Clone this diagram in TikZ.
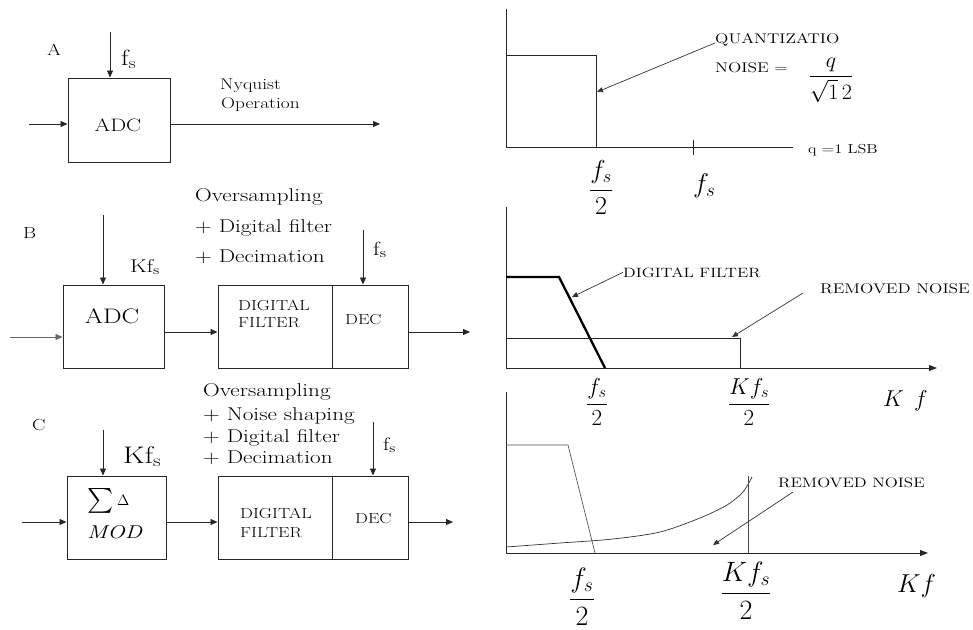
\RequirePackage{fix-cm}
\documentclass[tikz,border=0pt]{standalone}
\usepackage{amsmath}
\usepackage{fontspec}
\setmainfont{Latin Modern Roman}[FakeStretch=1.25]
\usetikzlibrary{arrows.meta}
\newcommand\fsz[1]{\fontsize{#1}{#1}\selectfont}
\tikzset{
  ln/.style={line width=0.9pt, draw=black!85},
  arr/.style={ln, -{Triangle[length=7pt,width=6pt]}},
  sarr/.style={line width=0.7pt, draw=black!80, -{Triangle[length=6pt,width=5pt]}},
  box/.style={draw=black!85, line width=1pt, inner sep=0pt},
  txt/.style={inner sep=0pt, anchor=base west},
  ctxt/.style={inner sep=0pt, anchor=base},
  axis/.style={line width=0.9pt, draw=black!85},
  thin/.style={line width=0.7pt, draw=black!70},
}
\begin{document}
\begin{tikzpicture}[x=1pt,y=-1pt]
\useasboundingbox (0,0) rectangle (973,629);

% ---------------- Panel A ----------------
\node[txt] (labA) at (47,55) {\fsz{16}A};
\node[box, minimum width=102pt, minimum height=84pt] (adcA) at (119,120) {};
\node[ctxt] (tadcA) at (118,131) {\fsz{18}ADC};
\node[txt] (fsA) at (121,65) {\fsz{22}f\textsubscript{s}};
\node[txt] (nyq) at (220,89) {\fsz{15.5}Nyquist};
\node[txt] (oper) at (221,108) {\fsz{15.5}Operation};
\coordinate (clkA) at (110,32);
\coordinate (inA) at (29,124);
\coordinate (outA) at (380,124);
\draw[arr] (clkA) -- (clkA |- adcA.north);
\draw[arr] (inA) -- (inA -| adcA.west);
\draw[arr] (adcA.east |- outA) -- (outA);

% ---------------- Panel B ----------------
\node[txt] (labB) at (23,238) {\fsz{16}B};
\node[box, minimum width=101pt, minimum height=83pt] (adcB) at (113.5,326.5) {};
\node[ctxt] (tadcB) at (112,323) {\fsz{21}ADC};
\node[box, minimum width=114pt, minimum height=83pt] (dfB) at (275,326.5) {};
\node[box, minimum width=76pt, minimum height=83pt] (decB) at (370,326.5) {};
\node[txt] (dig1B) at (238,310) {\fsz{14.5}DIGITAL};
\node[txt] (fil1B) at (238,327) {\fsz{14.5}FILTER};
\node[txt] (dec1B) at (345,324) {\fsz{14.5}DEC};
\node[txt] (ov1B) at (195,201) {\fsz{18.5}Oversampling};
\node[txt] (ov2B) at (195,232) {\fsz{18.5}+ Digital filter};
\node[txt] (ov3B) at (195,262) {\fsz{18.5}+ Decimation};
\node[txt] (kfB) at (130,272) {\fsz{18.5}Kf\textsubscript{s}};
\node[txt] (fsB) at (373,255) {\fsz{19}f\textsubscript{s}};
\coordinate (clkB1) at (103,215);
\coordinate (clkB2) at (363,230);
\coordinate (inB) at (10,337);
\coordinate (mB) at (0,332);
\coordinate (outB) at (470,332);
\draw[arr] (clkB1) -- (clkB1 |- adcB.north);
\draw[arr] (clkB2) -- (clkB2 |- decB.north);
\draw[arr, draw=black!60] (inB) -- (inB -| adcB.west);
\draw[arr] (adcB.east |- mB) -- (dfB.west |- mB);
\draw[arr] (decB.east |- mB) -- (outB);

% ---------------- Panel C ----------------
\node[txt] (labC) at (32,430) {\fsz{16}C};
\node[box, minimum width=99pt, minimum height=83pt] (modC) at (116.5,517.5) {};
\node[box, minimum width=114pt, minimum height=83pt] (dfC) at (275,517.5) {};
\node[box, minimum width=76pt, minimum height=83pt] (decC) at (370,517.5) {};
\node[txt] (sig) at (87,508) {\fsz{27}$\sum$};
\node[txt] (del) at (117,505) {\fsz{15}$\Delta$};
\node[txt] (mod) at (87,538) {\fsz{18.5}\itshape MOD};
\node[txt] (dig1C) at (240,518) {\fsz{14.5}DIGITAL};
\node[txt] (fil1C) at (240,537) {\fsz{14.5}FILTER};
\node[txt] (dec1C) at (355,523) {\fsz{14.5}DEC};
\node[txt] (ov1C) at (203,396) {\fsz{18.5}Oversampling};
\node[txt] (ov2C) at (203,420) {\fsz{18.5}+ Noise shaping};
\node[txt] (ov3C) at (203,442) {\fsz{18.5}+ Digital filter};
\node[txt] (ov4C) at (203,463) {\fsz{18.5}+ Decimation};
\node[txt] (kfC) at (123,463) {\fsz{24}Kf\textsubscript{s}};
\node[txt] (fsC) at (383,450) {\fsz{18}f\textsubscript{s}};
\coordinate (clkC1) at (103,430);
\coordinate (clkC2) at (373,422);
\coordinate (inC) at (22,522);
\coordinate (mC) at (0,522);
\coordinate (outC) at (453,522);
\draw[arr] (clkC1) -- (clkC1 |- modC.north);
\draw[arr] (clkC2) -- (clkC2 |- decC.north);
\draw[arr] (inC) -- (inC -| modC.west);
\draw[arr] (modC.east |- mC) -- (dfC.west |- mC);
\draw[arr] (decC.east |- mC) -- (outC);

% ---------------- Graph 1 ----------------
\draw[axis] (506,9) -- (506,147) -- (793,147);
\draw[axis] (506,55) -- (596,55) -- (596,147);
\draw[axis] (693,140) -- (693,155);
\node[txt] (quant) at (715,43) {\fsz{14}QUANTIZATIO};
\node[txt] (noise) at (715,72) {\fsz{14}NOISE =};
\node[ctxt] (qfrac) at (831,82) {\fsz{22}$\dfrac{q}{\sqrt{1}\,2}$};
\node[txt] (lsb) at (808,153) {\fsz{13}q =1 LSB};
\node[ctxt] (fr1) at (601,196.5) {\fsz{26}$\dfrac{f_s}{2}$};
\node[txt] (fs1) at (693,192) {\fsz{27}$f_s$};
\coordinate (qend) at (597,92);
\draw[sarr] (quant.base west) -- (qend);

% ---------------- Graph 2 ----------------
\draw[axis] (506,207) -- (506,368);
\draw[axis, -{Triangle[length=8pt,width=6pt]}] (506,368) -- (937,368);
\draw[line width=2.3pt, line join=miter] (506,277) -- (559,277) -- (605,368);
\draw[axis] (506,338) -- (740,338) -- (740,368);
\node[txt] (dflab) at (623,277) {\fsz{13.5}DIGITAL FILTER};
\node[txt] (rn2) at (820,293) {\fsz{14}REMOVED NOISE};
\coordinate (dfend) at (572,297);
\coordinate (rn2s) at (803,293);
\coordinate (rn2e) at (732,337);
\draw[sarr] (dflab.west) -- (dfend);
\draw[sarr] (rn2s) -- (rn2e);
\node[ctxt] (fr2a) at (597,410) {\fsz{23}$\dfrac{f_s}{2}$};
\node[ctxt] (fr2b) at (749,410) {\fsz{23}$\dfrac{Kf_s}{2}$};
\node[txt] (kf2) at (883,406) {\fsz{23}$K\;\,f$};

% ---------------- Graph 3 ----------------
\draw[axis] (506,392) -- (506,553);
\draw[axis, -{Triangle[length=8pt,width=6pt]}] (506,553) -- (928,553);
\draw[thin] (506,445) -- (568,445) -- (595,553);
\draw[line width=0.7pt, draw=black!80] plot[smooth] coordinates {(506,547) (560,543) (613,539) (660,532) (700,518) (727,505) (743,492) (752,477)};
\draw[thin] (748,476) -- (748,553);
\node[txt] (rn3) at (778,487) {\fsz{13.7}REMOVED NOISE};
\coordinate (rn3s) at (793,492);
\coordinate (rn3e) at (713,545);
\draw[sarr] (rn3s) -- (rn3e);
\node[ctxt] (fr3a) at (582,606) {\fsz{28}$\dfrac{f_s}{2}$};
\node[ctxt] (fr3b) at (746,600) {\fsz{28}$\dfrac{Kf_s}{2}$};
\node[txt] (kf3) at (897,592) {\fsz{26}$Kf$};
\end{tikzpicture}
\end{document}
